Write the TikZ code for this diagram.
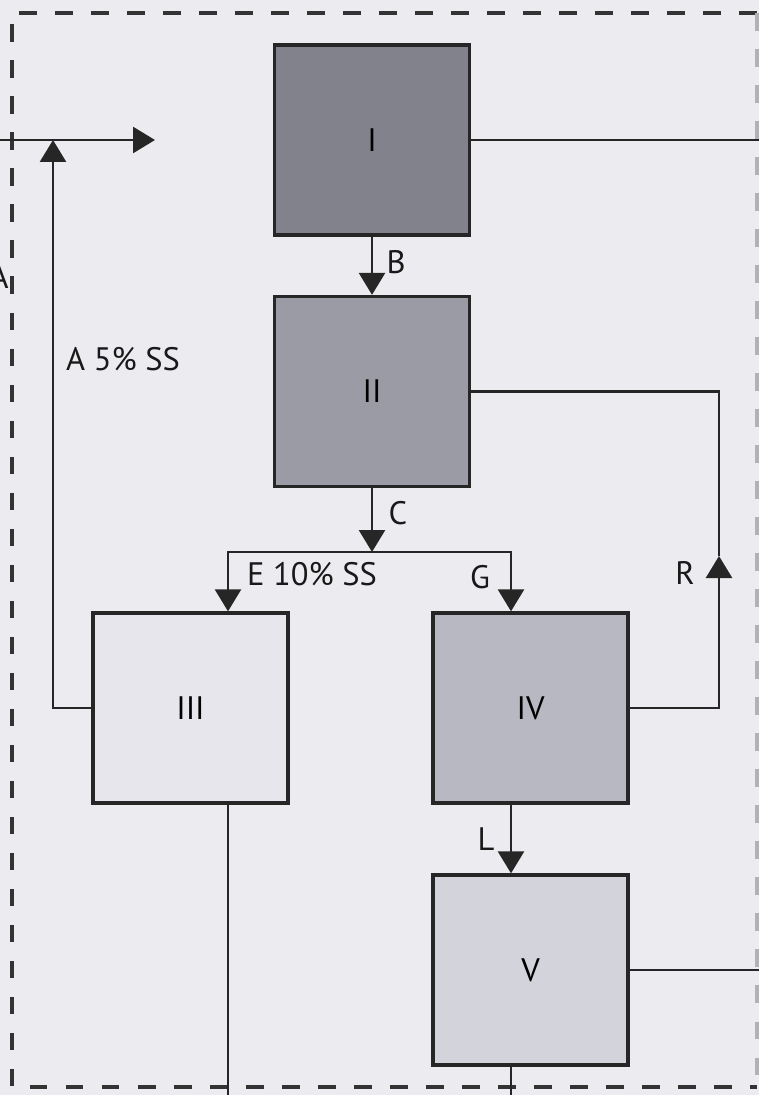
\documentclass[tikz,border=0pt]{standalone}
\usepackage{fontspec}
\setmainfont{PT Sans}
\usetikzlibrary{arrows.meta}

\definecolor{paper}{HTML}{ECECF0}
\definecolor{shadeI}{HTML}{82828C}
\definecolor{shadeII}{HTML}{9B9BA6}
\definecolor{shadeIII}{HTML}{E6E6EC}
\definecolor{shadeIV}{HTML}{B8B8C3}
\definecolor{shadeV}{HTML}{D3D3DC}
\newcommand{\lblfont}{\fontsize{18.5}{22}\selectfont}

\tikzset{
  unit/.style={draw=black!85, line width=1.9pt, minimum width=3.9cm,
    minimum height=3.8cm, inner sep=0pt, font=\lblfont},
  flow/.style={line width=1.5pt, draw=black!85},
  lbl/.style={font=\lblfont, inner sep=0pt, text=black!90},
  frame/.style={line width=2pt, black!80, dash pattern=on 10pt off 10.5pt},
}

\begin{document}
\begin{tikzpicture}[x=0.02cm, y=-0.02cm,
  >={Triangle[width=0.52cm, length=0.44cm]}]
  \useasboundingbox (0,0) rectangle (759,1095);
  \fill[paper] (0,0) rectangle (759,1095);
  \clip (0,0) rectangle (759,1095);

  % dashed frame
  \draw[frame] (757,13) -- (12,13) -- (12,1087) -- (757,1087);
  \draw[frame, black!30] (757,13) -- (757,1087);

  % units
  \node[unit, fill=shadeI] (i) at (372,140) {I};
  \node[unit, fill=shadeII] (ii) at (372,391.5) {II};
  \node[unit, fill=shadeIII] (iii) at (190.5,708) {III};
  \node[unit, fill=shadeIV] (iv) at (530.5,708) {IV};
  \node[unit, fill=shadeV] (v) at (530.5,970) {V};

  % free ends and bends
  \coordinate (feedin) at (0,140);
  \coordinate (feedtip) at (155,140);
  \coordinate (atip) at (53,140);
  \coordinate (rtip) at (719,556);
  \coordinate (outI) at (759,140);
  \coordinate (outV) at (759,970);
  \coordinate (split) at (372,552);
  \coordinate (ecol) at (228,0);
  \coordinate (gcol) at (511,0);
  \coordinate (drainIII) at (228,1095);
  \coordinate (drainV) at (511,1095);

  % streams
  \draw[flow, ->] (feedin) -- (feedtip);
  \draw[flow, ->] (iii.west) -| (atip);
  \draw[flow] (i.east) -- (outI);
  \draw[flow, ->] (i.south) -- (ii.north);
  \draw[flow, ->] (ii.south) -- (split);
  \draw[flow, ->] (split) -| (iii.north -| ecol);
  \draw[flow, ->] (split) -| (iv.north -| gcol);
  \draw[flow, ->] (iv.east) -| (rtip);
  \draw[flow] (rtip) |- (ii.east);
  \draw[flow, ->] (iv.south -| gcol) -- (v.north -| gcol);
  \draw[flow] (v.east) -- (outV);
  \draw[flow] (iii.south -| ecol) -- (drainIII);
  \draw[flow] (v.south -| gcol) -- (drainV);

  % stream labels
  \node[lbl, anchor=east] (lblA) at (9,277) {A};
  \node[lbl] (lblA5) at (123,359) {A 5\% SS};
  \node[lbl] (lblB) at (396,262) {B};
  \node[lbl] (lblC) at (398,513) {C};
  \node[lbl] (lblE) at (312,574) {E 10\% SS};
  \node[lbl] (lblG) at (480,577) {G};
  \node[lbl] (lblR) at (685,573) {R};
  \node[lbl] (lblL) at (486,839) {L};
\end{tikzpicture}
\end{document}
